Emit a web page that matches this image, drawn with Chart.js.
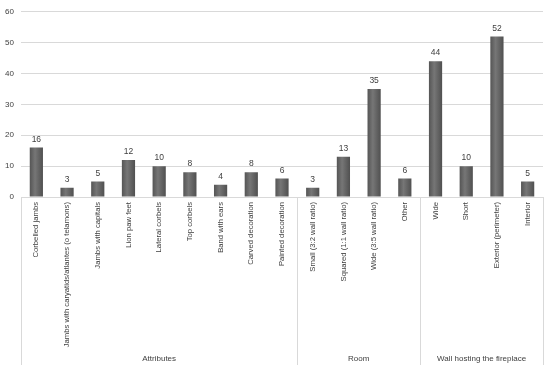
<!DOCTYPE html>
<html>
<head>
<meta charset="utf-8">
<script src="https://cdn.jsdelivr.net/npm/chart.js@4"></script>
<style>
  html, body { margin: 0; padding: 0; background: #fff; }
  #wrap { width: 550px; height: 369px; }
</style>
</head>
<body>
<div id="wrap"><canvas id="chart"></canvas></div>
<script>
const categories = [
  "Corbelled jambs",
  "Jambs with caryatids/atlantes (o telamons)",
  "Jambs with capitals",
  "Lion paw feet",
  "Lateral corbels",
  "Top corbels",
  "Band with ears",
  "Carved decoration",
  "Painted decoration",
  "Small (3:2 wall ratio)",
  "Squared (1:1 wall ratio)",
  "Wide (3:5 wall ratio)",
  "Other",
  "Wide",
  "Short",
  "Exterior (perimeter)",
  "Interior",
];
const counts = [16, 3, 5, 12, 10, 8, 4, 8, 6, 3, 13, 35, 6, 44, 10, 52, 5];
const groups = [
  { name: "Attributes", from: 0, to: 8 },
  { name: "Room", from: 9, to: 12 },
  { name: "Wall hosting the fireplace", from: 13, to: 16 },
];
const yTicks = [0, 10, 20, 30, 40, 50, 60];

const FONT = "'Liberation Sans', Arial, sans-serif";
const BAR_PCT = 0.43;

function barGradient(ctx) {
  const chart = ctx.chart;
  const xs = chart.scales.x;
  if (!chart.chartArea || !xs) return "#6a6a6a";
  const cx = xs.getPixelForValue(ctx.dataIndex);
  const half = (xs.width / categories.length) * BAR_PCT / 2;
  const g = chart.ctx.createLinearGradient(cx - half, 0, cx + half, 0);
  g.addColorStop(0, "#555555");
  g.addColorStop(0.4, "#767676");
  g.addColorStop(1, "#505050");
  return g;
}

// value labels above bars
const valueLabels = {
  id: "valueLabels",
  afterDatasetsDraw(chart) {
    const c = chart.ctx;
    const meta = chart.getDatasetMeta(0);
    c.save();
    c.font = "8.5px " + FONT;
    c.fillStyle = "#404040";
    c.textAlign = "center";
    c.textBaseline = "bottom";
    meta.data.forEach((bar, i) => {
      c.fillText(String(counts[i]), bar.x, bar.y - 4);
    });
    c.restore();
  },
};

// group separators + group names under the category labels
const groupAxis = {
  id: "groupAxis",
  afterDraw(chart) {
    const c = chart.ctx;
    const xs = chart.scales.x;
    const step = xs.width / categories.length;
    const top = chart.chartArea.bottom;
    const bottom = 365;
    c.save();
    c.strokeStyle = "#d9d9d9";
    c.lineWidth = 1;
    c.beginPath();
    c.moveTo(xs.left, top + 0.5);
    c.lineTo(xs.right, top + 0.5);
    c.stroke();
    const edges = [0];
    groups.forEach((g) => edges.push(g.to + 1));
    edges.forEach((e) => {
      const x = Math.round(xs.left + e * step) + 0.5;
      c.beginPath();
      c.moveTo(x, top);
      c.lineTo(x, bottom);
      c.stroke();
    });
    c.font = "8px " + FONT;
    c.fillStyle = "#404040";
    c.textAlign = "center";
    c.textBaseline = "middle";
    groups.forEach((g) => {
      const mid = xs.left + ((g.from + g.to + 1) / 2) * step;
      c.fillText(g.name, mid, 359);
    });
    c.restore();
  },
};

new Chart(document.getElementById("chart"), {
  type: "bar",
  data: {
    labels: categories,
    datasets: [
      {
        data: counts,
        backgroundColor: barGradient,
        borderWidth: 0,
        categoryPercentage: 1,
        barPercentage: BAR_PCT,
      },
    ],
  },
  options: {
    responsive: true,
    maintainAspectRatio: false,
    animation: false,
    layout: { padding: { top: 9, right: 7, left: 0, bottom: 0 } },
    plugins: {
      legend: { display: false },
      tooltip: { enabled: false },
    },
    scales: {
      x: {
        grid: { display: false, drawTicks: false },
        border: { display: false },
        ticks: {
          minRotation: 90,
          maxRotation: 90,
          autoSkip: false,
          padding: 5,
          color: "#404040",
          font: { family: FONT, size: 7.7 },
        },
        afterFit: (scale) => {
          scale.height = 172;
        },
      },
      y: {
        min: 0,
        max: 60,
        afterBuildTicks: (scale) => {
          scale.ticks = yTicks.map((v) => ({ value: v }));
        },
        grid: { color: "#d9d9d9", drawTicks: false },
        border: { display: false },
        ticks: {
          padding: 7,
          color: "#404040",
          font: { family: FONT, size: 8 },
        },
        afterFit: (scale) => {
          scale.width = 21;
        },
      },
    },
  },
  plugins: [valueLabels, groupAxis],
});
</script>
</body>
</html>
